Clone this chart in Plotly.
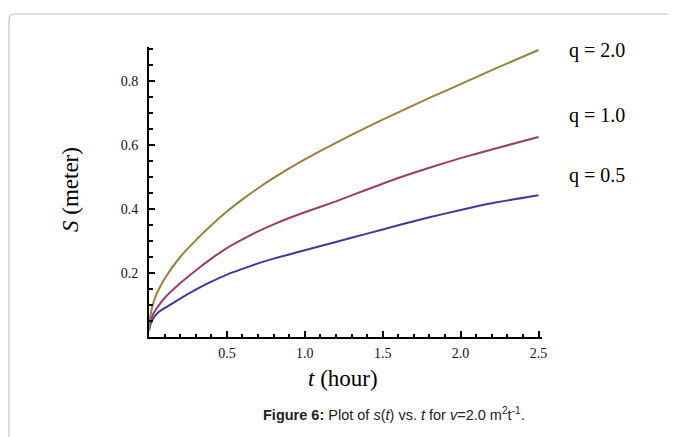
import plotly.graph_objects as go

# ---- data ----
t_blue = [0, 0.01, 0.03, 0.06, 0.1, 0.15, 0.2, 0.3, 0.4, 0.5, 0.6, 0.7, 0.8, 0.9, 1.0, 1.2, 1.4, 1.6, 1.8, 2.0, 2.2, 2.5]
s_blue = [0.02, 0.04, 0.06, 0.077, 0.09, 0.105, 0.12, 0.148, 0.173, 0.195, 0.213, 0.23, 0.245, 0.258, 0.271, 0.297, 0.323, 0.349, 0.374, 0.397, 0.418, 0.443]

t_red = [0, 0.01, 0.03, 0.05, 0.1, 0.2, 0.3, 0.4, 0.5, 0.6, 0.7, 0.8, 0.9, 1.0, 1.2, 1.4, 1.6, 1.8, 2.0, 2.2, 2.5]
s_red = [0.02, 0.05, 0.075, 0.09, 0.122, 0.168, 0.208, 0.245, 0.278, 0.305, 0.33, 0.352, 0.372, 0.39, 0.424, 0.461, 0.497, 0.529, 0.559, 0.586, 0.625]

t_gold = [0, 0.01, 0.03, 0.05, 0.1, 0.2, 0.3, 0.4, 0.5, 0.6, 0.7, 0.8, 0.9, 1.0, 1.2, 1.4, 1.6, 1.8, 2.0, 2.2, 2.5]
s_gold = [0.02, 0.07, 0.11, 0.136, 0.182, 0.25, 0.302, 0.349, 0.392, 0.430, 0.465, 0.497, 0.527, 0.555, 0.607, 0.656, 0.702, 0.747, 0.79, 0.834, 0.897]

series_names = ["q = 0.5", "q = 1.0", "q = 2.0"]
series_colors = ["rgb(61,61,153)", "rgb(153,61,107)", "rgb(153,128,61)"]

x_tickvals = [0.5, 1.0, 1.5, 2.0, 2.5]
x_ticktext = ["0.5", "1.0", "1.5", "2.0", "2.5"]
y_tickvals = [0.2, 0.4, 0.6, 0.8]
y_ticktext = ["0.2", "0.4", "0.6", "0.8"]

OFF = 8  # page body margin
W, H = 676 - OFF, 437 - OFF
ML, MT, PW, PH = 149 - OFF, 47 - OFF, 393, 290
MR, MB = W - ML - PW, H - MT - PH

serif = "Liberation Serif"
sans = "Liberation Sans"

fig = go.Figure()
for tx, sy, name, col in zip([t_blue, t_red, t_gold], [s_blue, s_red, s_gold], series_names, series_colors):
    fig.add_trace(go.Scatter(x=tx, y=sy, mode="lines", name=name,
                             line=dict(color=col, width=2, shape="spline", smoothing=0.5),
                             showlegend=False, hoverinfo="skip"))

tickfont = dict(family=serif, size=14, color="#111")
fig.update_xaxes(range=[0, PW / 155.8], tickvals=x_tickvals, ticktext=x_ticktext,
                 showgrid=False, zeroline=False, showline=True, linecolor="black", linewidth=2,
                 ticks="inside", tickcolor="black", tickwidth=2, ticklen=6, ticklabelstandoff=2,
                 tickfont=tickfont,
                 minor=dict(dtick=0.1, tick0=0, ticks="inside", ticklen=3, tickwidth=2, tickcolor="black"))
fig.update_yaxes(range=[0, PH / 320.0], tickvals=y_tickvals, ticktext=y_ticktext,
                 showgrid=False, zeroline=False, showline=True, linecolor="black", linewidth=2,
                 ticks="inside", tickcolor="black", tickwidth=2, ticklen=6, ticklabelstandoff=6,
                 tickfont=tickfont,
                 minor=dict(dtick=0.05, tick0=0, ticks="inside", ticklen=4, tickwidth=2, tickcolor="black"))

# axis overhang past the origin (Mathematica style)
fig.add_shape(type="line", xref="x", yref="y", xsizemode="pixel", xanchor=0,
              x0=-9, x1=0, y0=0, y1=0, line=dict(color="black", width=2))
fig.add_shape(type="line", xref="x", yref="y", ysizemode="pixel", yanchor=0,
              x0=0, x1=0, y0=-6, y1=0, line=dict(color="black", width=2))

# rounded frame border (top-left corner visible); coordinates in page pixels
def rel(x, y):
    return (x - OFF) - ML, (MT + PH) - (y - OFF)
pts = [rel(9, 470), rel(9, 20), rel(9, 14), rel(15, 14), rel(700, 14)]
path = "M {} {} L {} {} Q {} {} {} {} L {} {}".format(*[v for p in pts for v in p])
fig.add_shape(type="path", xref="paper", yref="paper", xsizemode="pixel", ysizemode="pixel",
              xanchor=0, yanchor=0, path=path, line=dict(color="#c4c4c4", width=1.2))

def pap(x, y):
    return ((x - OFF) - ML) / PW, ((MT + PH) - (y - OFF)) / PH

for name, ypix in zip(series_names, [175, 115, 50]):
    ax, ay = pap(567, ypix)
    fig.add_annotation(text=name, x=ax, y=ay, xref="paper", yref="paper", xanchor="left",
                       yanchor="middle", showarrow=False, font=dict(family=serif, size=20, color="black"))

ax, ay = pap(70, 190)
fig.add_annotation(text="<i>S</i> (meter)", x=ax, y=ay, xref="paper", yref="paper", textangle=-90,
                   xanchor="center", yanchor="middle",
                   showarrow=False, font=dict(family=serif, size=23, color="black"))
ax, ay = pap(343, 378)
fig.add_annotation(text="<i>t</i> (hour)", x=ax, y=ay, xref="paper", yref="paper",
                   xanchor="center", yanchor="middle",
                   showarrow=False, font=dict(family=serif, size=23, color="black"))
ax, ay = pap(394, 414)
fig.add_annotation(text="<b>Figure 6:</b> Plot of <i>s</i>(<i>t</i>) vs. <i>t</i> for <i>v</i>=2.0 m<sup>2</sup>t<sup>-1</sup>.",
                   x=ax, y=ay, xref="paper", yref="paper", xanchor="center", yanchor="middle",
                   showarrow=False, font=dict(family=sans, size=14.5, color="#222"))

fig.update_layout(width=W, height=H, margin=dict(l=ML, r=MR, t=MT, b=MB),
                  plot_bgcolor="white", paper_bgcolor="white")
fig.write_html("out.html")
